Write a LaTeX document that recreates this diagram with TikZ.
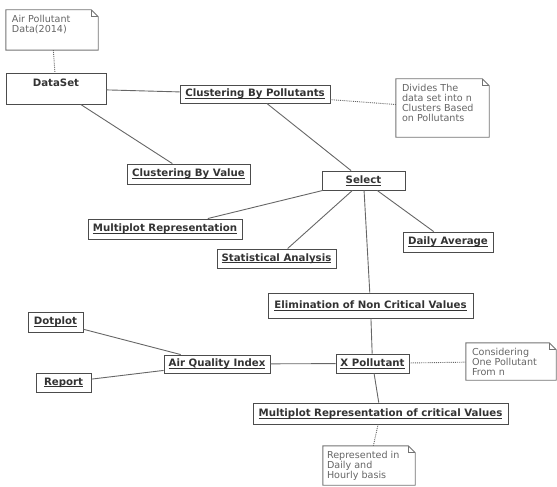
\documentclass[tikz,border=0pt]{standalone}
\usepackage{fontspec}
\newfontfamily\dvfont{DejaVu Sans}
\usetikzlibrary{shadows}
\newcommand\ulbl[1]{\setbox0\hbox{#1}\rlap{\rule[-1.8pt]{\wd0}{0.6pt}}\box0}
\newcommand\umlnote[1]{%
  \draw[noteline] (#1.north west) -- ([xshift=-7pt]#1.north east) -- ([yshift=-7pt]#1.north east) -- (#1.south east) -- (#1.south west) -- cycle;
  \draw[noteline] ([xshift=-7pt]#1.north east) -- ([xshift=-7pt,yshift=-7pt]#1.north east) -- ([yshift=-7pt]#1.north east);}
\tikzset{
  umlbox/.style={draw=black!70, line width=0.9pt, fill=white, inner sep=0pt,
    drop shadow={shadow xshift=1.3pt, shadow yshift=-1.3pt, fill=black!35, opacity=1},
    font=\dvfont\bfseries\fontsize{10.2}{12}\selectfont, text=black!80},
  notebody/.style={inner sep=0pt, fill=white},
  noteline/.style={draw=black!55, line width=0.9pt},
  notetext/.style={inner sep=0pt, align=left, anchor=north west, text=black!60,
    font=\dvfont\fontsize{9.6}{10}\selectfont},
  conn/.style={draw=black!60, line width=0.9pt},
  dotconn/.style={draw=black!60, line width=0.9pt, densely dotted},
}
\begin{document}
\begin{tikzpicture}[x=1pt,y=-1pt]
\useasboundingbox (0,0) rectangle (557,487);
% notes
\node[notebody, minimum width=92, minimum height=40] (n1) at (52,30) {};
\node[notebody, minimum width=93, minimum height=58] (n2) at (442.5,108) {};
\node[notebody, minimum width=90, minimum height=37] (n3) at (511,361.5) {};
\node[notebody, minimum width=92, minimum height=39] (n4) at (369,465.5) {};
% boxes
\node[umlbox, minimum width=100, minimum height=31] (ds) at (56,88.5) {};
\node[inner sep=0pt, font=\dvfont\bfseries\fontsize{10.2}{12}\selectfont, text=black!80] (dst) at ([yshift=-10pt]ds.north) {DataSet};
\node[umlbox, minimum width=150, minimum height=18] (cp) at (255,94) {\ulbl{Clustering By Pollutants}};
\node[umlbox, minimum width=123, minimum height=20] (cv) at (188.5,174) {\ulbl{Clustering By Value}};
\node[umlbox, minimum width=83, minimum height=19] (sel) at (363.5,180.5) {\ulbl{Select}};
\node[umlbox, minimum width=154, minimum height=20] (mr) at (165,229) {\ulbl{Multiplot Representation}};
\node[umlbox, minimum width=119, minimum height=19] (st) at (276.5,258.5) {\ulbl{Statistical Analysis}};
\node[umlbox, minimum width=90, minimum height=20] (da) at (448,242) {\ulbl{Daily Average}};
\node[umlbox, minimum width=205, minimum height=25] (el) at (370.5,305.5) {\ulbl{Elimination of Non Critical Values}};
\node[umlbox, minimum width=73, minimum height=19] (xp) at (372.5,363.5) {\ulbl{X Pollutant}};
\node[umlbox, minimum width=106, minimum height=18] (aqi) at (217,364) {\ulbl{Air Quality Index}};
\node[umlbox, minimum width=55, minimum height=20] (dp) at (55.5,322) {\ulbl{Dotplot}};
\node[umlbox, minimum width=55, minimum height=19] (rp) at (63.5,382.5) {\ulbl{Report}};
\node[umlbox, minimum width=255, minimum height=21] (mc) at (380.5,413.5) {\ulbl{Multiplot Representation of critical Values}};
% note outlines and texts
\umlnote{n1}\umlnote{n2}\umlnote{n3}\umlnote{n4}
\node[notetext] (n1t) at ([shift={(6,5)}]n1.north west) {Air Pollutant\\Data(2014)};
\node[notetext] (n2t) at ([shift={(6,5)}]n2.north west) {Divides The\\data set into n\\Clusters Based\\on Pollutants};
\node[notetext] (n3t) at ([shift={(6,5)}]n3.north west) {Considering\\One Pollutant\\From n};
\node[notetext] (n4t) at ([shift={(4,5)}]n4.north west) {Represented in\\Daily and\\Hourly basis};
% connectors
\draw[conn] (ds) -- (cp);
\draw[conn] (ds) -- (cv);
\draw[conn] (cp) -- (sel);
\draw[conn] (sel) -- (mr);
\draw[conn] (sel) -- (st);
\draw[conn] (sel) -- (da);
\draw[conn] (sel) -- (el);
\draw[conn] (el) -- (xp);
\draw[conn] (aqi) -- (xp);
\draw[conn] (dp) -- (aqi);
\draw[conn] (rp) -- (aqi);
\draw[conn] (xp) -- (mc);
\draw[dotconn] (n1) -- (ds);
\draw[dotconn] (cp) -- (n2);
\draw[dotconn] (xp) -- (n3);
\draw[dotconn] (mc) -- (n4);
\end{tikzpicture}
\end{document}
